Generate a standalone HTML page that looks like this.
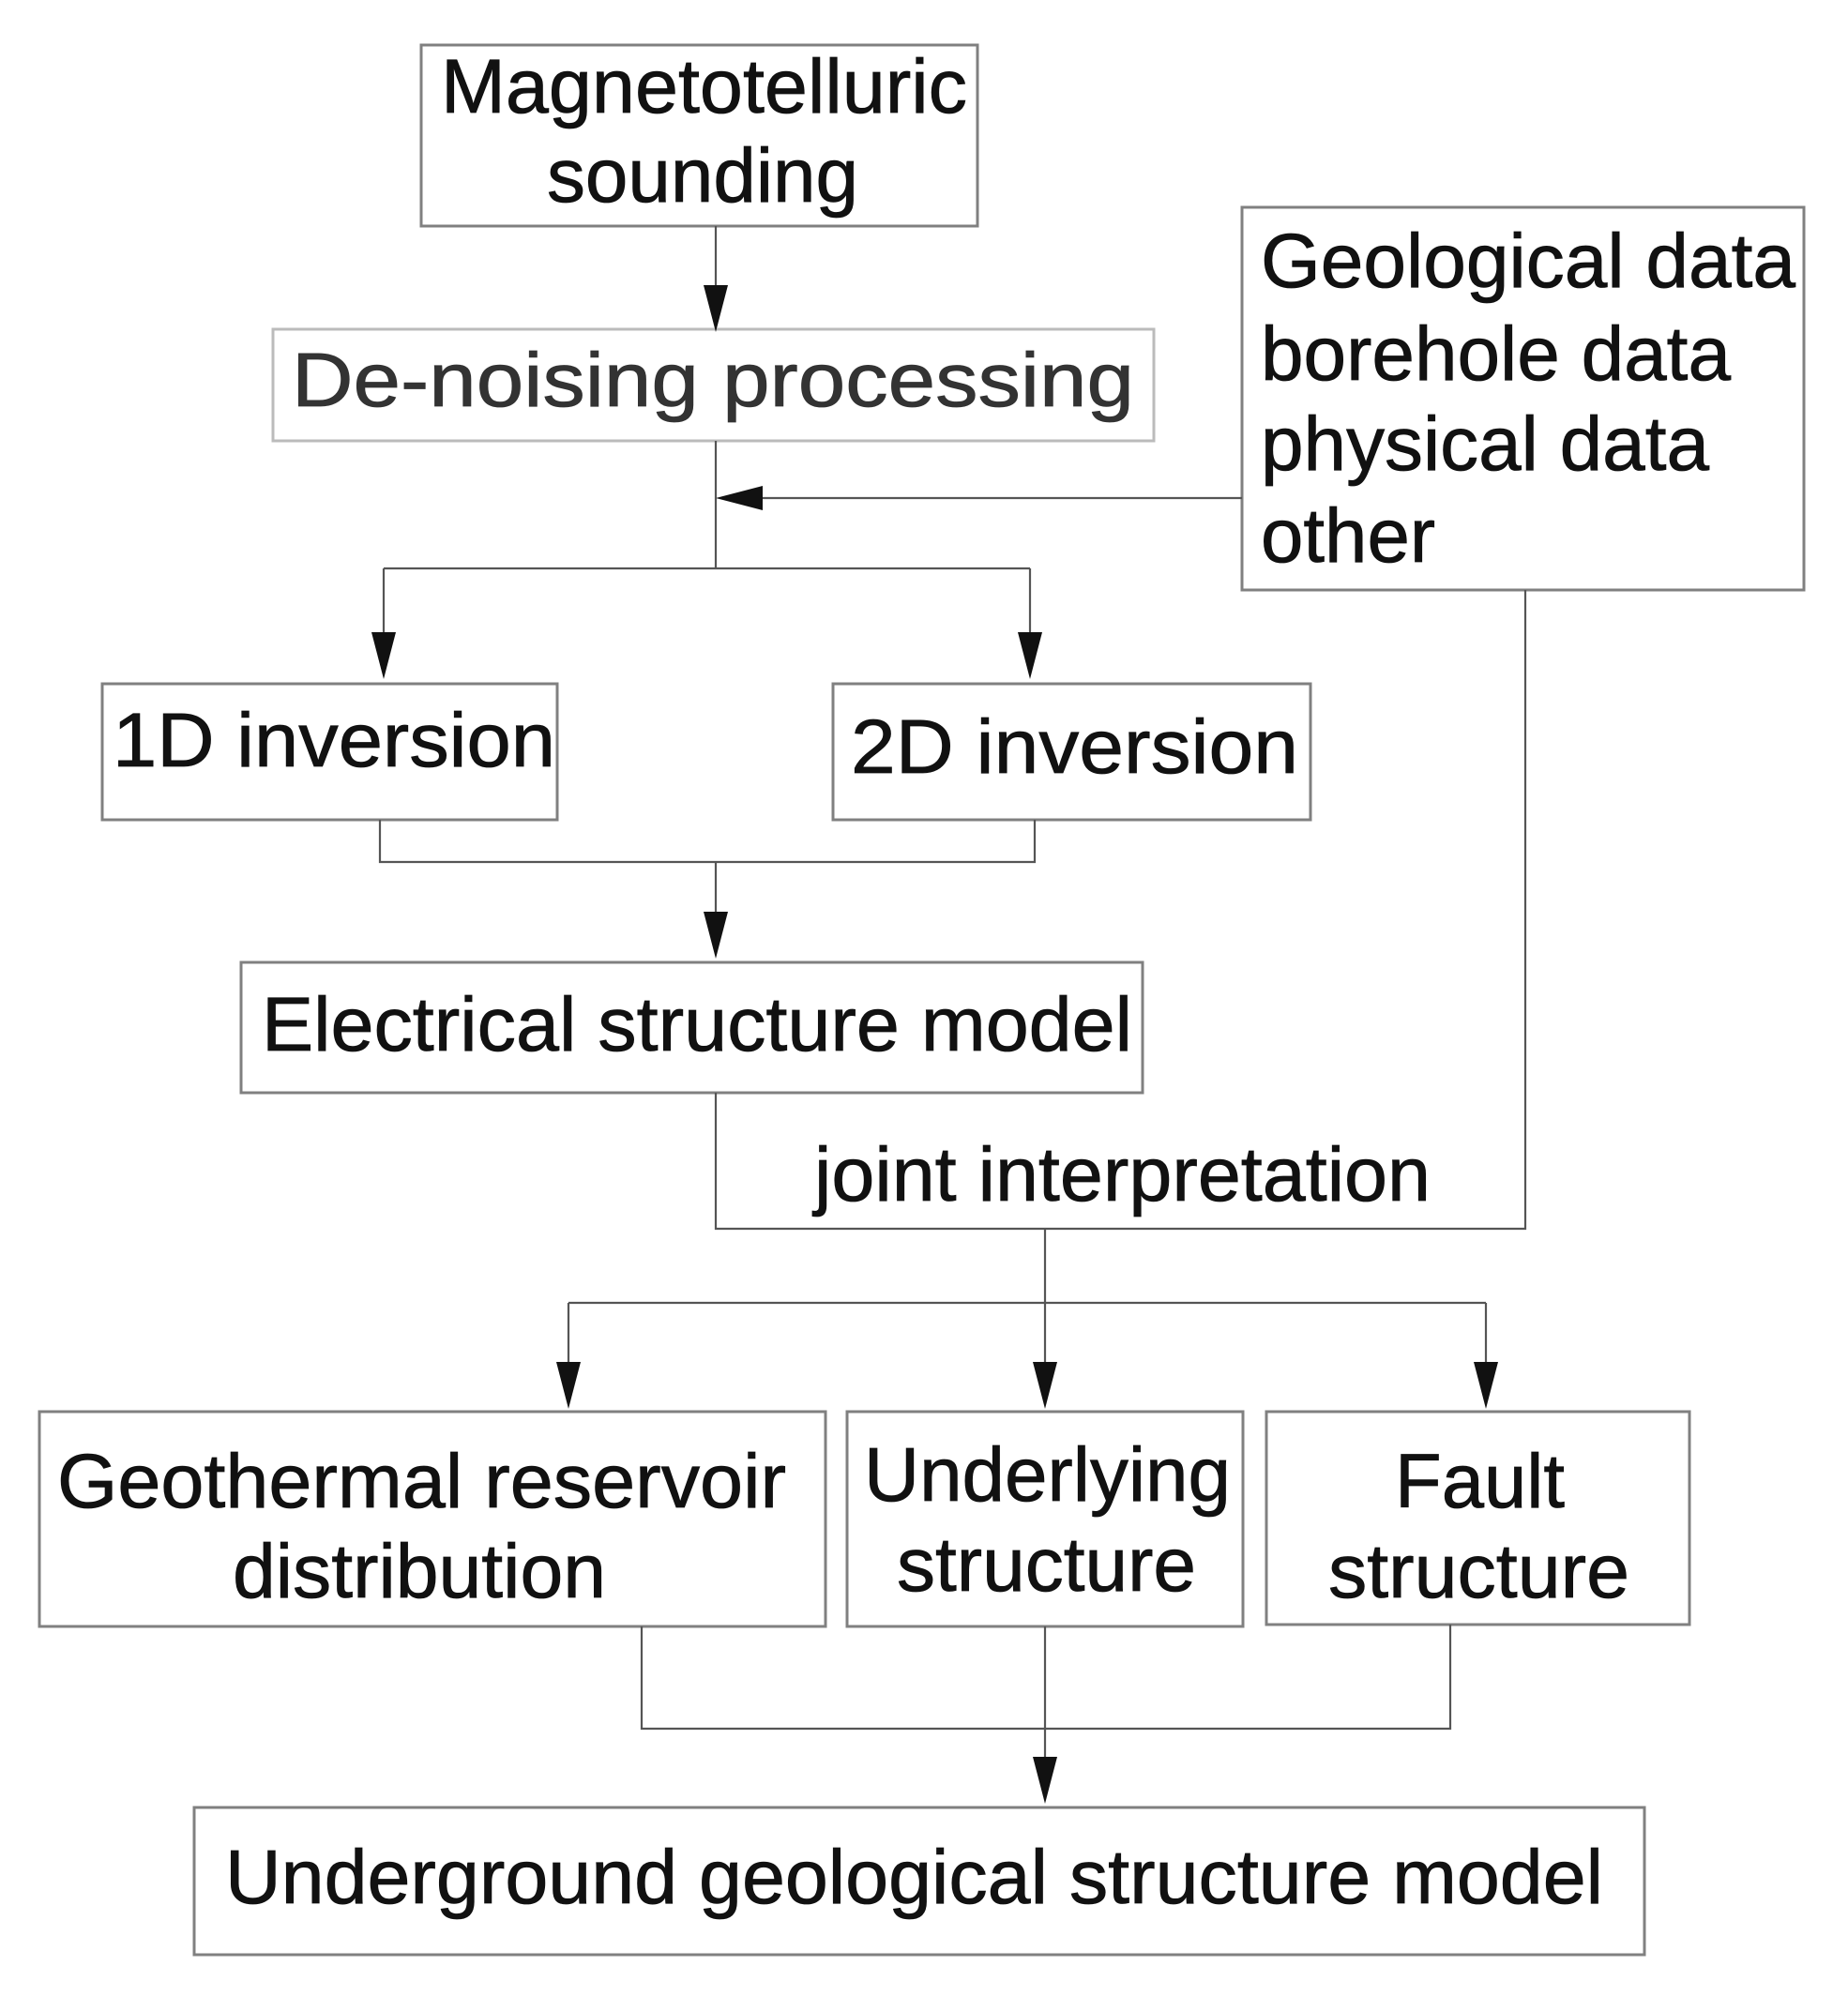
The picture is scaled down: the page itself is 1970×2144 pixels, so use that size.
<!DOCTYPE html>
<html><head><meta charset="utf-8"><style>html,body{margin:0;padding:0;background:#fff}svg{display:block}</style></head>
<body>
<svg width="1970" height="2144" viewBox="0 0 1970 2144" xmlns="http://www.w3.org/2000/svg">
<g fill="none" stroke="#808080" stroke-width="3">
<rect x="449" y="48" width="593" height="193"/>
<rect x="291" y="351" width="939" height="119" stroke="#bbb"/>
<rect x="1324" y="221" width="599" height="408"/>
<rect x="109" y="729" width="485" height="145"/>
<rect x="888" y="729" width="509" height="145"/>
<rect x="257" y="1026" width="961" height="139"/>
<rect x="42" y="1505" width="838" height="229"/>
<rect x="903" y="1505" width="422" height="229"/>
<rect x="1350" y="1505" width="451" height="227"/>
<rect x="207" y="1927" width="1546" height="157"/>
</g>
<g fill="none" stroke="#555" stroke-width="2.2">
<path d="M763 241V320"/>
<path d="M763 470V606M409 606H1098M409 606V690M1098 606V690"/>
<path d="M1324 531H800"/>
<path d="M405 874V919H1103V874M763 919V990"/>
<path d="M763 1165V1310H1626V629"/>
<path d="M1114 1310V1470M606 1389H1584M606 1389V1470M1584 1389V1470"/>
<path d="M684 1734V1843H1546V1732M1114 1734V1890"/>
</g>
<g fill="#111">
<path d="M750 304L776 304L763 354Z"/>
<path d="M763 531L813 518L813 544Z"/>
<path d="M396 674L422 674L409 724Z"/>
<path d="M1085 674L1111 674L1098 724Z"/>
<path d="M750 972L776 972L763 1022Z"/>
<path d="M593 1452L619 1452L606 1502Z"/>
<path d="M1101 1452L1127 1452L1114 1502Z"/>
<path d="M1571 1452L1597 1452L1584 1502Z"/>
<path d="M1101 1873L1127 1873L1114 1923Z"/>
</g>
<g font-family="Liberation Sans, sans-serif" font-size="82" fill="#111" stroke="#111" stroke-width="0.8">
<text x="470" y="120" textLength="561" lengthAdjust="spacingAndGlyphs">Magnetotelluric</text>
<text x="583" y="215" textLength="332" lengthAdjust="spacingAndGlyphs">sounding</text>
<text x="311" y="433" textLength="898" fill="#333" stroke="#333" lengthAdjust="spacingAndGlyphs">De-noising processing</text>
<text x="1344" y="306" textLength="570" lengthAdjust="spacingAndGlyphs">Geological data</text>
<text x="1344" y="405" textLength="501" lengthAdjust="spacingAndGlyphs">borehole data</text>
<text x="1344" y="501" textLength="478" lengthAdjust="spacingAndGlyphs">physical data</text>
<text x="1344" y="599" textLength="186" lengthAdjust="spacingAndGlyphs">other</text>
<text x="120" y="817" textLength="472" lengthAdjust="spacingAndGlyphs">1D  inversion</text>
<text x="907" y="824" textLength="477" lengthAdjust="spacingAndGlyphs">2D  inversion</text>
<text x="279" y="1120" textLength="928" lengthAdjust="spacingAndGlyphs">Electrical structure model</text>
<text x="868" y="1280" textLength="657" lengthAdjust="spacingAndGlyphs">joint interpretation</text>
<text x="61" y="1607" textLength="777" lengthAdjust="spacingAndGlyphs">Geothermal reservoir</text>
<text x="248" y="1703" textLength="398" lengthAdjust="spacingAndGlyphs">distribution</text>
<text x="921" y="1600" textLength="391" lengthAdjust="spacingAndGlyphs">Underlying</text>
<text x="956" y="1696" textLength="319" lengthAdjust="spacingAndGlyphs">structure</text>
<text x="1487" y="1607" textLength="181" lengthAdjust="spacingAndGlyphs">Fault</text>
<text x="1416" y="1703" textLength="321" lengthAdjust="spacingAndGlyphs">structure</text>
<text x="240" y="2029" textLength="1469" lengthAdjust="spacingAndGlyphs">Underground geological structure model</text>
</g>
</svg>
</body></html>
